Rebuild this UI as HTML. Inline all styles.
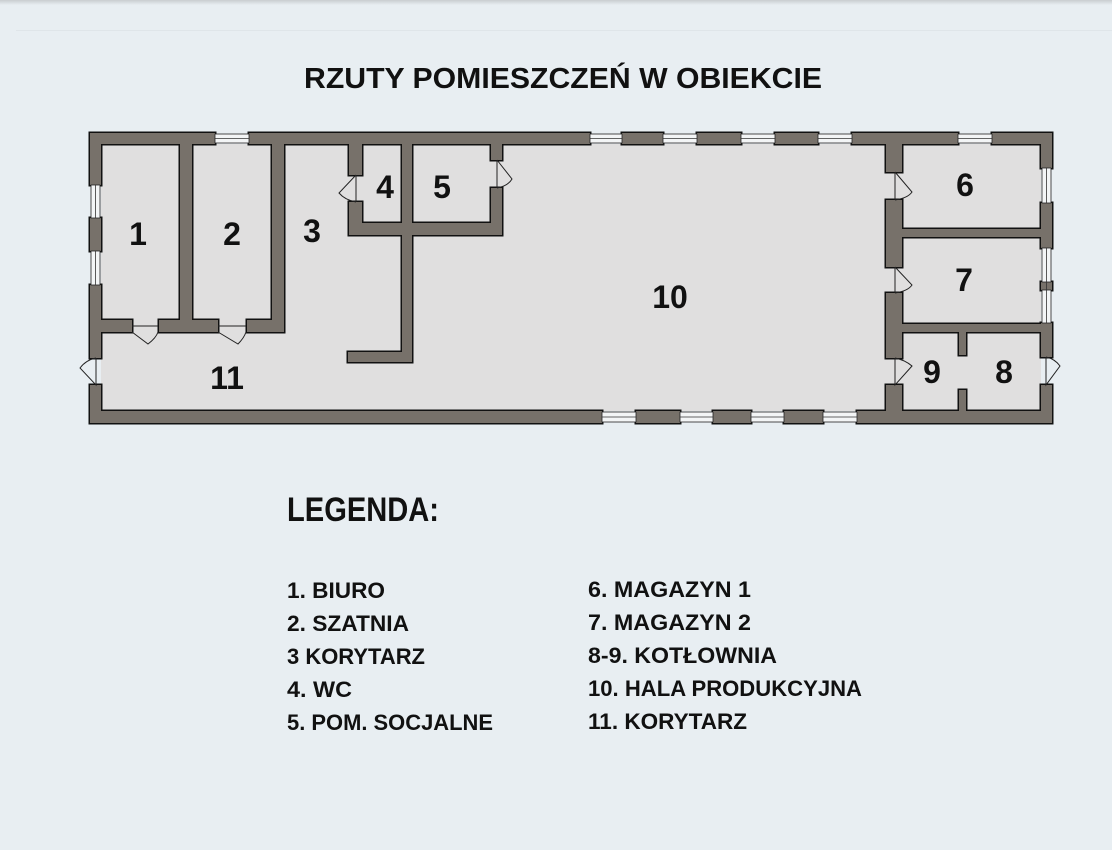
<!DOCTYPE html>
<html><head><meta charset="utf-8"><style>
html,body{margin:0;padding:0;background:#e8eef2;}
svg{display:block}
text{font-family:"Liberation Sans",sans-serif;font-weight:bold;fill:#111}
</style></head><body>
<svg width="1112" height="850" viewBox="0 0 1112 850" xmlns="http://www.w3.org/2000/svg">
<defs><linearGradient id="sh" x1="0" y1="0" x2="0" y2="1"><stop offset="0" stop-color="#c9cdd0"/><stop offset="1" stop-color="#e8eef2"/></linearGradient></defs>
<rect width="1112" height="850" fill="#e8eef2"/>
<rect width="1112" height="5" fill="url(#sh)"/>
<rect x="16" y="30" width="1096" height="1" fill="#dfe5e9"/>
<text x="563" y="88" font-size="29" text-anchor="middle" textLength="518" lengthAdjust="spacingAndGlyphs">RZUTY POMIESZCZEŃ W OBIEKCIE</text>

<rect x="101" y="144" width="940" height="267" fill="#e0dfdf"/>

<g id="walls">
<rect x="90" y="133" width="125" height="11"/><rect x="249" y="133" width="341" height="11"/>
<rect x="622" y="133" width="41" height="11"/><rect x="697" y="133" width="44" height="11"/>
<rect x="775" y="133" width="43" height="11"/><rect x="852" y="133" width="106" height="11"/>
<rect x="992" y="133" width="60" height="11"/>
<rect x="90" y="411" width="512" height="12"/><rect x="636" y="411" width="44" height="12"/>
<rect x="713" y="411" width="38" height="12"/><rect x="784" y="411" width="39" height="12"/>
<rect x="857" y="411" width="195" height="12"/>
<rect x="90" y="133" width="11" height="52"/><rect x="90" y="218" width="11" height="33"/>
<rect x="90" y="285" width="11" height="73"/><rect x="90" y="385" width="11" height="38"/>
<rect x="1041" y="133" width="11" height="35"/><rect x="1041" y="203" width="11" height="45"/>
<rect x="1041" y="282" width="11" height="8"/><rect x="1041" y="323" width="11" height="34"/>
<rect x="1041" y="385" width="11" height="38"/>
<rect x="180" y="144" width="12" height="188"/>
<rect x="272" y="144" width="12" height="188"/>
<rect x="101" y="320" width="31" height="12"/><rect x="159" y="320" width="59" height="12"/>
<rect x="247" y="320" width="37" height="12"/>
<rect x="349" y="144" width="13" height="31"/><rect x="349" y="202" width="13" height="33"/>
<rect x="349" y="223" width="153" height="12"/>
<rect x="402" y="144" width="10" height="218"/>
<rect x="348" y="352" width="64" height="10"/>
<rect x="491" y="144" width="11" height="16"/><rect x="491" y="188" width="11" height="47"/>
<rect x="886" y="144" width="16" height="28"/><rect x="886" y="200" width="16" height="67"/>
<rect x="886" y="293" width="16" height="65"/><rect x="886" y="385" width="16" height="26"/>
<rect x="902" y="229" width="139" height="8"/>
<rect x="902" y="324" width="150" height="8"/>
<rect x="959" y="332" width="7" height="23"/><rect x="959" y="390" width="7" height="21"/>
</g>
<use href="#walls" fill="none" stroke="#111" stroke-width="3"/>
<use href="#walls" fill="#77716a"/>

<g fill="#f3f5f6" stroke="#222" stroke-width="0.8">
<rect x="215" y="134" width="34" height="9"/><rect x="590" y="134" width="32" height="9"/>
<rect x="663" y="134" width="34" height="9"/><rect x="741" y="134" width="34" height="9"/>
<rect x="818" y="134" width="34" height="9"/><rect x="958" y="134" width="34" height="9"/>
<rect x="602" y="412" width="34" height="10"/><rect x="680" y="412" width="33" height="10"/>
<rect x="751" y="412" width="33" height="10"/><rect x="823" y="412" width="34" height="10"/>
<rect x="91" y="185" width="9" height="33"/><rect x="91" y="251" width="9" height="34"/>
<rect x="1042" y="168" width="9" height="35"/><rect x="1042" y="248" width="9" height="34"/>
<rect x="1042" y="290" width="9" height="33"/>
</g>
<g stroke="#333" stroke-width="0.8">
<line x1="215" y1="138.5" x2="249" y2="138.5"/><line x1="590" y1="138.5" x2="622" y2="138.5"/>
<line x1="663" y1="138.5" x2="697" y2="138.5"/><line x1="741" y1="138.5" x2="775" y2="138.5"/>
<line x1="818" y1="138.5" x2="852" y2="138.5"/><line x1="958" y1="138.5" x2="992" y2="138.5"/>
<line x1="602" y1="417" x2="636" y2="417"/><line x1="680" y1="417" x2="713" y2="417"/>
<line x1="751" y1="417" x2="784" y2="417"/><line x1="823" y1="417" x2="857" y2="417"/>
<line x1="95.5" y1="185" x2="95.5" y2="218"/><line x1="95.5" y1="251" x2="95.5" y2="285"/>
<line x1="1046.5" y1="168" x2="1046.5" y2="203"/><line x1="1046.5" y1="248" x2="1046.5" y2="323"/>
</g>

<g fill="none" stroke="#222" stroke-width="1">
<path d="M96 358 L96 385 L80 368 Q86 360 96 358"/>
<path d="M132 326 L158 326 M132 332 L148 344 Q156 338 158 332"/>
<path d="M218 326 L246 326 M218 332 L238 344 Q244 338 246 332"/>
<path d="M356 175 L356 202 M356 175 L339 193 Q345 200 356 202"/>
<path d="M497 160 L497 188 M497 160 L512 179 Q508 186 497 188"/>
<path d="M895 172 L895 200 M895 172 L912 192 Q908 198 895 200"/>
<path d="M895 267 L895 293 M895 267 L912 285 Q908 291 895 293"/>
<path d="M895 358 L895 385 L912 366 Q905 360 895 358"/>
<path d="M1046 357 L1046 385 L1060 366 Q1055 359 1046 357"/>
</g>

<g font-size="32" text-anchor="middle">
<text x="138" y="245">1</text><text x="232" y="245">2</text><text x="312" y="242">3</text>
<text x="385" y="198">4</text><text x="442" y="198">5</text><text x="670" y="308">10</text>
<text x="227" y="389">11</text><text x="965" y="196">6</text><text x="964" y="291">7</text>
<text x="932" y="383">9</text><text x="1004" y="383">8</text>
</g>

<text x="287" y="521" font-size="34" textLength="152" lengthAdjust="spacingAndGlyphs">LEGENDA:</text>
<g font-size="22">
<text x="287" y="598" textLength="98" lengthAdjust="spacingAndGlyphs">1. BIURO</text>
<text x="287" y="631" textLength="122" lengthAdjust="spacingAndGlyphs">2. SZATNIA</text>
<text x="287" y="664" textLength="138" lengthAdjust="spacingAndGlyphs">3 KORYTARZ</text>
<text x="287" y="697" textLength="65" lengthAdjust="spacingAndGlyphs">4. WC</text>
<text x="287" y="730" textLength="206" lengthAdjust="spacingAndGlyphs">5. POM. SOCJALNE</text>
<text x="588" y="597" textLength="163" lengthAdjust="spacingAndGlyphs">6. MAGAZYN 1</text>
<text x="588" y="630" textLength="163" lengthAdjust="spacingAndGlyphs">7. MAGAZYN 2</text>
<text x="588" y="663" textLength="189" lengthAdjust="spacingAndGlyphs">8-9. KOTŁOWNIA</text>
<text x="588" y="696" textLength="274" lengthAdjust="spacingAndGlyphs">10. HALA PRODUKCYJNA</text>
<text x="588" y="729" textLength="159" lengthAdjust="spacingAndGlyphs">11. KORYTARZ</text>
</g>
</svg>
</body></html>
